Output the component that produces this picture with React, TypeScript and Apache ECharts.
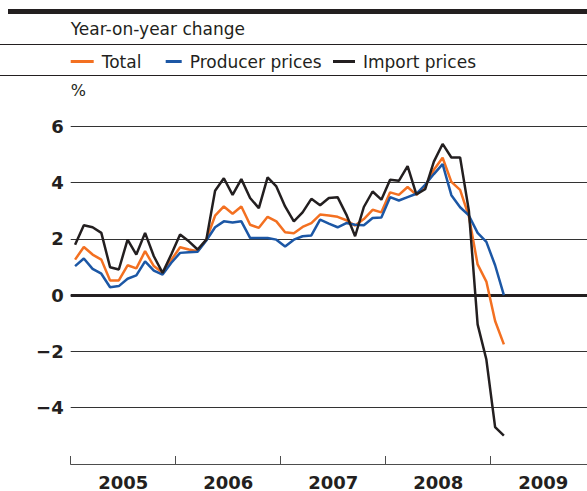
import React, { useEffect, useRef } from "react";
import * as echarts from "echarts";

const seriesNames = ["Total", "Producer prices", "Import prices"];
const seriesColors = ["#f37021", "#1c57a5", "#231f20"];
const yearLabels = ["2005", "2006", "2007", "2008", "2009"];

// Monthly year-on-year change, Jan 2005 onwards
const total = [
  1.26, 1.71, 1.44, 1.26, 0.52, 0.52, 1.06, 0.95, 1.56, 1.03, 0.79, 1.25,
  1.7, 1.62, 1.56, 1.97, 2.82, 3.15, 2.89, 3.15, 2.5, 2.39, 2.78, 2.62,
  2.23, 2.2, 2.42, 2.56, 2.86, 2.83, 2.78, 2.66, 2.47, 2.7, 3.03, 2.94,
  3.65, 3.56, 3.84, 3.56, 3.86, 4.45, 4.88, 4.02, 3.74, 2.8, 1.09, 0.48,
  -0.92, -1.75,
];
const producer = [
  1.03, 1.3, 0.93, 0.76, 0.28, 0.32, 0.58, 0.7, 1.2, 0.87, 0.73, 1.15,
  1.5, 1.52, 1.54, 1.94, 2.41, 2.62, 2.58, 2.62, 2.03, 2.03, 2.03, 1.97,
  1.73, 1.97, 2.09, 2.12, 2.68, 2.54, 2.41, 2.56, 2.5, 2.48, 2.74, 2.76,
  3.48, 3.36, 3.48, 3.6, 3.92, 4.3, 4.65, 3.55, 3.12, 2.83, 2.21, 1.89,
  1.06, 0.0,
];
const importPrices = [
  1.79, 2.48, 2.41, 2.21, 0.99, 0.91, 1.97, 1.44, 2.21, 1.38, 0.79, 1.45,
  2.15, 1.91, 1.62, 1.97, 3.71, 4.15, 3.56, 4.12, 3.45, 3.09, 4.18, 3.86,
  3.15, 2.62, 2.94, 3.42, 3.19, 3.45, 3.48, 2.86, 2.09, 3.13, 3.68, 3.39,
  4.1, 4.06, 4.58, 3.58, 3.76, 4.74, 5.37, 4.89, 4.89, 3.0, -1.04, -2.29,
  -4.69, -4.99,
];

const yTicks = [-4, -2, 0, 2, 4, 6];

const FONT = "'DejaVu Sans', sans-serif";
const DARK = "#231f20";

export default function App() {
  const ref = useRef<HTMLDivElement>(null);
  useEffect(() => {
    if (!ref.current) return;
    const chart = echarts.init(ref.current, null, { renderer: "svg" });
    const toPairs = (arr: number[]) => arr.map((v, i) => [i + 0.5, v]);
    const all = [total, producer, importPrices];
    const legendLefts = [70.7, 165.7, 333];
    const legendWidths = [23, 16, 22];
    const option: any = {
      animation: false,
      backgroundColor: "#ffffff",
      textStyle: { fontFamily: FONT, color: DARK },
      grid: { left: 70.7, right: 0, top: 126.2, bottom: 27, containLabel: false },
      legend: seriesNames.map((name, k) => ({
        left: legendLefts[k],
        top: 53,
        itemWidth: legendWidths[k],
        itemHeight: 3,
        icon: "rect",
        padding: 0,
        textStyle: { fontFamily: FONT, fontSize: 17, color: DARK, padding: [0, 0, 0, 3] },
        data: [name],
      })),
      xAxis: {
        type: "value",
        min: 0,
        max: 59,
        axisLine: { show: true, onZero: false, lineStyle: { color: "#4d4d4d", width: 1 } },
        axisTick: {
          show: true,
          inside: true,
          length: 8,
          customValues: [0, 12, 24, 36, 48],
          lineStyle: { color: "#4d4d4d", width: 1 },
        },
        axisLabel: {
          show: true,
          customValues: [6, 18, 30, 42, 54],
          formatter: (v: number) => yearLabels[Math.round((v - 6) / 12)] ?? "",
          fontFamily: FONT,
          fontWeight: "bold",
          fontSize: 18,
          color: DARK,
          margin: 9,
        },
        splitLine: { show: false },
      },
      yAxis: {
        type: "value",
        min: -6,
        max: 6,
        interval: 2,
        axisLine: { show: false },
        axisTick: { show: false },
        axisLabel: {
          fontFamily: FONT,
          fontWeight: "bold",
          fontSize: 18,
          color: DARK,
          margin: 7,
          formatter: (v: number) =>
            yTicks.includes(v) ? (v < 0 ? "\u2212" + Math.abs(v) : String(v)) : "",
        },
        splitLine: { show: true, lineStyle: { color: "#333333", width: 1 } },
      },
      series: seriesNames.map((name, k) => ({
        name,
        type: "line",
        data: toPairs(all[k]),
        symbol: "none",
        lineStyle: { color: seriesColors[k], width: 2.5 },
        itemStyle: { color: seriesColors[k] },
        z: 3 + k,
        markLine:
          k === 0
            ? {
                silent: true,
                symbol: "none",
                label: { show: false },
                lineStyle: { color: DARK, width: 3, type: "solid" },
                data: [{ yAxis: 0 }],
                z: 2,
              }
            : undefined,
      })),
      graphic: [
        { type: "rect", shape: { x: 8, y: 9, width: 579, height: 5 }, style: { fill: DARK } },
        { type: "line", shape: { x1: 0, y1: 44.5, x2: 587, y2: 44.5 }, style: { stroke: DARK, lineWidth: 1 } },
        { type: "line", shape: { x1: 0, y1: 75.5, x2: 587, y2: 75.5 }, style: { stroke: DARK, lineWidth: 1 } },
        {
          type: "text",
          x: 70.7,
          y: 29,
          style: { text: "Year-on-year change", font: `17px ${FONT}`, fill: DARK, verticalAlign: "middle" },
        },
        {
          type: "text",
          x: 70.7,
          y: 90,
          style: { text: "%", font: `16px ${FONT}`, fill: DARK, verticalAlign: "middle" },
        },
      ],
    };
    chart.setOption(option);
    return () => chart.dispose();
  }, []);
  return <div ref={ref} style={{ width: 587, height: 491, position: "absolute", left: 0, top: 0 }} />;
}
